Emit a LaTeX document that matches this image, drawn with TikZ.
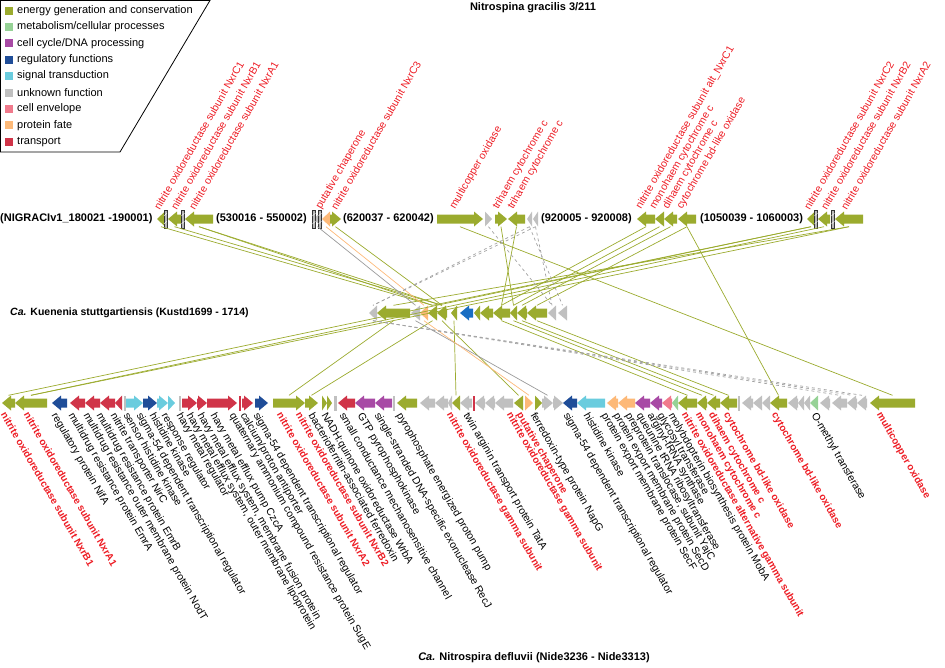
\documentclass[tikz,border=0pt]{standalone}
\usepackage{fontspec}
\setmainfont{Liberation Sans}

\definecolor{cEnergy}{RGB}{155,171,46}
\definecolor{cMetab}{RGB}{150,210,150}
\definecolor{cCycle}{RGB}{168,74,165}
\definecolor{cRegul}{RGB}{31,77,152}
\definecolor{cRegulB}{RGB}{25,110,195}
\definecolor{cSignal}{RGB}{106,204,222}
\definecolor{cUnknown}{RGB}{192,192,192}
\definecolor{cEnvel}{RGB}{240,122,140}
\definecolor{cFate}{RGB}{253,185,120}
\definecolor{cTrans}{RGB}{208,52,72}
\definecolor{labred}{RGB}{237,28,36}

% gene arrow: x1, x2, y, colour, r/l/b, name
\newcommand\gene[6]{%
	\pgfmathsetmacro\gw{#2-#1}%
	\pgfmathsetmacro\gh{min(9,#2-#1)}%
	\if r#5
		\fill[#4] (#1,#3-4.5) -- (#2-\gh,#3-4.5) -- (#2-\gh,#3-7.5) -- (#2,#3) -- (#2-\gh,#3+7.5) -- (#2-\gh,#3+4.5) -- (#1,#3+4.5) -- cycle;
	\else\if l#5
		\fill[#4] (#2,#3-4.5) -- (#1+\gh,#3-4.5) -- (#1+\gh,#3-7.5) -- (#1,#3) -- (#1+\gh,#3+7.5) -- (#1+\gh,#3+4.5) -- (#2,#3+4.5) -- cycle;
	\else
		\fill[#4] (#1,#3-7.5) rectangle (#2,#3+7.5);
	\fi\fi
	\node[inner sep=0, minimum width=\gw pt, minimum height=15pt] (#6) at ({(#1+#2)/2},#3) {};
}

\tikzset{
	legtext/.style={anchor=west, inner sep=0, font=\fontsize{11}{13}\selectfont},
	rowtext/.style={anchor=west, inner sep=0, font=\bfseries\fontsize{11}{13}\selectfont},
	toplab/.style={text=labred, rotate=60, anchor=south west, inner sep=0, font=\fontsize{10.5}{12}\selectfont},
	botlab/.style={rotate=-60, anchor=north west, inner sep=0, font=\fontsize{10.5}{12}\selectfont},
	bk/.style={text=black},
	rb/.style={text=labred, font=\bfseries\fontsize{10}{12}\selectfont},
	link/.style={line width=.7},
}

\begin{document}
\begin{tikzpicture}[x=1pt, y=-1pt]
	\useasboundingbox (0,0) rectangle (945,667);

	% legend
	\draw[line width=.8] (0.4,0.4) -- (210,0.4) -- (120,152) -- (0.4,152) -- cycle;
	\foreach \c/\t [count=\k from 0] in {cEnergy/{energy generation and conservation}, cMetab/{metabolism/cellular processes}, cCycle/{cell cycle/DNA processing}, cRegul/{regulatory functions}, cSignal/{signal transduction}, cUnknown/{unknown function}, cEnvel/{cell envelope}, cFate/{protein fate}, cTrans/{transport}}
	{
		\fill[\c] (5,{6.5+16.4*\k}) rectangle (13,{14.5+16.4*\k});
		\node[legtext] (leg\k) at (17,{10.5+16.4*\k}) {\t};
	}

	\node[font=\bfseries\fontsize{11}{13}\selectfont] (title) at (533,8) {Nitrospina gracilis 3/211};

	% Nitrospina row
	\node[rowtext] (seg1) at (0,219) {(NIGRACIv1\_180021 -190001)};
	\node[rowtext] (seg2) at (216,219) {(530016 - 550002)};
	\node[rowtext] (seg3) at (343,219) {(620037 - 620042)};
	\node[rowtext] (seg4) at (541,219) {(920005 - 920008)};
	\node[rowtext] (seg5) at (700,219) {(1050039 - 1060003)};
	\foreach \a/\b/\c/\d [count=\i] in {157/165/cEnergy/l, 168/181/cEnergy/l, 185/213/cEnergy/l, 313/322/cUnknown/l, 322/330/cFate/l, 330/341/cEnergy/r, 437/483/cEnergy/r, 485/492/cUnknown/r, 495/507/cEnergy/r, 508/525/cEnergy/l, 527/532/cUnknown/l, 533/538/cUnknown/l, 637/655/cEnergy/l, 655/664/cEnergy/l, 664/677/cEnergy/l, 678/696/cEnergy/l, 807/815/cEnergy/l, 818/830/cEnergy/l, 835/863/cEnergy/l}
	{
		\gene{\a}{\b}{219}{\c}{\d}{t\i}
	}
	\foreach \x in {165.5, 183, 314, 320, 816, 833}
	{
		\filldraw[fill=gray!55, draw=black!80, line width=.3] (\x-1.6,210) rectangle (\x+1.6,228);
		\draw[white, line width=.4] (\x-1.6,216) -- (\x+1.6,213) (\x-1.6,224) -- (\x+1.6,221);
	}
	\foreach \x/\t in {160/{nitrite oxidoreductase subunit NxrC1}, 177/{nitrite oxidoreductase subunit NxrB1}, 195/{nitrite oxidoreductase subunit NxrA1}, 323/{putative chaperone}, 337/{nitrite oxidoreductase subunit NxrC3}, 457/{multicopper oxidase}, 500/{trihaem cytochrome c}, 515/{trihaem cytochrome c}, 643/{nitrite oxidoreductase subunit alt\_NxrC1}, 657/{monohaem cytochrome c}, 670/{dihaem cytochrome c}, 684/{cytochrome bd-like oxidase}, 810/{nitrite oxidoreductase subunit NxrC2}, 827/{nitrite oxidoreductase subunit NxrB2}, 847/{nitrite oxidoreductase subunit NxrA2}}
	{
		\node[toplab] at (\x,211) {\t};
	}

	% Kuenenia row
	\node[rowtext, font=\bfseries\fontsize{10.5}{12}\selectfont] (kuen) at (10,313) {\textit{Ca.} Kuenenia stuttgartiensis (Kustd1699 - 1714)};
	\foreach \a/\b/\c/\d [count=\i] in {369/377/cUnknown/l, 377/410/cEnergy/l, 411/420/cUnknown/l, 420/428/cFate/l, 428/437/cEnergy/l, 437/447/cEnergy/l, 451/457/cEnergy/l, 460/473/cRegulB/l, 474/480/cEnergy/l, 480/493/cEnergy/l, 493/510/cEnergy/l, 510/517/cEnergy/l, 517/527/cEnergy/l, 527/547/cEnergy/l, 548/556/cUnknown/l, 558/567/cUnknown/l}
	{
		\gene{\a}{\b}{313}{\c}{\d}{m\i}
	}

	% Nitrospira row
	\foreach \a/\b/\c/\d [count=\i] in {2/15/cEnergy/l, 15/47/cEnergy/l, 52/67/cRegul/l, 70/85/cTrans/l, 85/100/cTrans/l, 100/115/cTrans/l, 115/122/cTrans/l, 124/126/cUnknown/b, 126/143/cSignal/r, 143/157/cRegul/r, 157/168/cSignal/r, 168/175/cSignal/r, 179/181/cUnknown/b, 182/197/cTrans/r, 197/207/cTrans/r, 207/237/cTrans/r, 239/241/cTrans/b, 242/253/cTrans/r, 255/268/cRegul/r, 273/305/cEnergy/r, 305/318/cEnergy/r, 322/327/cEnergy/r, 327/332/cEnergy/r, 334/337/cUnknown/b, 338/355/cTrans/l, 355/375/cCycle/l, 375/392/cCycle/l, 393/395/cUnknown/b, 397/417/cEnergy/l, 420/435/cUnknown/l, 435/448/cUnknown/l, 448/452/cUnknown/l, 452/460/cEnergy/l, 460/472/cUnknown/l, 473/475/cTrans/b, 475/485/cUnknown/l, 485/495/cUnknown/l, 495/513/cUnknown/l, 514/523/cEnergy/l, 525/533/cFate/r, 535/542/cEnergy/r, 542/553/cUnknown/r, 553/563/cUnknown/r, 563/577/cRegul/l, 577/605/cSignal/l, 607/618/cFate/l, 618/635/cFate/l, 635/650/cCycle/l, 650/662/cCycle/l, 662/672/cEnvel/l, 672/678/cMetab/l, 678/697/cEnergy/l, 697/707/cEnergy/l, 707/720/cEnergy/l, 720/737/cEnergy/l, 738/740/cUnknown/b, 742/753/cUnknown/l, 753/762/cUnknown/l, 762/770/cUnknown/l, 770/787/cEnergy/l, 788/798/cUnknown/l, 798/804/cUnknown/l, 804/810/cUnknown/l, 810/818/cMetab/l, 820/830/cUnknown/l, 832/847/cUnknown/l, 847/857/cUnknown/l, 857/867/cUnknown/l, 870/915/cEnergy/l}
	{
		\gene{\a}{\b}{403}{\c}{\d}{b\i}
	}
	\foreach \x/\s/\t in {7/rb/{nitrite oxidoreductase subunit NxrB1}, 30/rb/{nitrite oxidoreductase subunit NxrA1}, 58/bk/{regulatory protein NifA}, 75/bk/{multidrug resistance protein EmrA}, 90/bk/{multidrug resistance outer membrane protein NodT}, 103/bk/{multidrug resistance protein EmrB}, 117/bk/{nitrite transporter NirC}, 130/bk/{sensor histidine kinase}, 143/bk/{sigma-54 dependent transcriptional regulator}, 156/bk/{histidine kinase}, 168/bk/{response regulator}, 183/bk/{havy metal regulator}, 193/bk/{havy metal efflux system, outer membrane lipoprotein}, 204/bk/{havy metal efflux system, membrane fusion protein}, 217/bk/{havy metal efflux pump CzcA}, 236/bk/{quaternary ammonium compound resistance protein SugE}, 247/bk/{calcium/proton antiporter}, 260/bk/{sigma-54 dependent transcriptional regulator}, 283/rb/{nitrite oxidoreductase subunit NxrA2}, 302/rb/{nitrite oxidoreductase subunit NxrB2}, 315/bk/{bacterioferritin-associated ferredoxin}, 328/bk/{NADH:quinone oxidoreductase WrbA}, 346/bk/{small conductance mechanosensitive channel}, 364/bk/{GTP pyrophosphokinase}, 381/bk/{single-stranded DNA-specific exonuclease RecJ}, 403/bk/{pyrophosphate energized proton pump}, 453/rb/{nitrite oxidoreductase gamma subunit}, 470/bk/{twin arginin transport protein TatA}, 513/rb/{nitrite oxidoreductase gamma subunit}, 523/rb/{putative chaperone}, 537/bk/{ferredoxin-type protein NapG}, 570/bk/{sigma-54 dependent transcriptional regulator}, 590/bk/{histidine kinase}, 608/bk/{protein export membrane protein SecF}, 620/bk/{protein export membrane protein SecD}, 632/bk/{preprotein translocase, subunit YajC}, 643/bk/{queunine tRNA ribosyltransferase}, 654/bk/{arginyl-tRNA synthase}, 664/bk/{glycosyl transferase}, 675/bk/{molybdopterin biosynthesis protein MobA}, 688/rb/{nitrite oxidoreductase alternative gamma subunit}, 702/rb/{monohaem cytochrome c}, 715/rb/{dihaem cytochrome c}, 730/rb/{cytochrome bd-like oxidase}, 778/rb/{cytochrome bd-like oxidase}, 818/bk/{O-methyl transferase}, 883/rb/{multicopper oxidase}}
	{
		\node[botlab, \s] at (\x,411) {\t};
	}
	\node[font=\bfseries\fontsize{11}{13}\selectfont] (nide) at (534,658) {\textit{Ca.} Nitrospira defluvii (Nide3236 - Nide3313)};

	% links
	\foreach \p/\q in {t1/m5, t2/m6, t3/m5, t3/m6, t6/m6, t7/b69, t9/m12, t10/m11, t13/m11, t14/m12, t15/m13, t16/m14, t16/b60, t17/b1, t18/b2, t19/b2, t17/m5, t19/m2, m2/b20, m5/b21, m6/b39, m7/b33, m11/b52, m12/b53, m13/b54, m14/b55}
	{
		\draw[link, cEnergy] (\p.south) -- (\q.north);
	}
	\draw[link, cUnknown!80!black] (t4.south) -- (m3.north);
	\draw[link, cUnknown!80!black] (m3.south) -- (b42.north);
	\draw[link, cFate] (t5.south) -- (m4.north);
	\draw[link, cFate] (m4.south) -- (b40.north);
	\foreach \p/\q in {t11/m1, t12/m1, t11/m16, t12/m15, t8/m15, m1/b66, m1/b67, m1/b68}
	{
		\draw[link, cUnknown!85!black, dashed] (\p.south) -- (\q.north);
	}
\end{tikzpicture}
\end{document}
